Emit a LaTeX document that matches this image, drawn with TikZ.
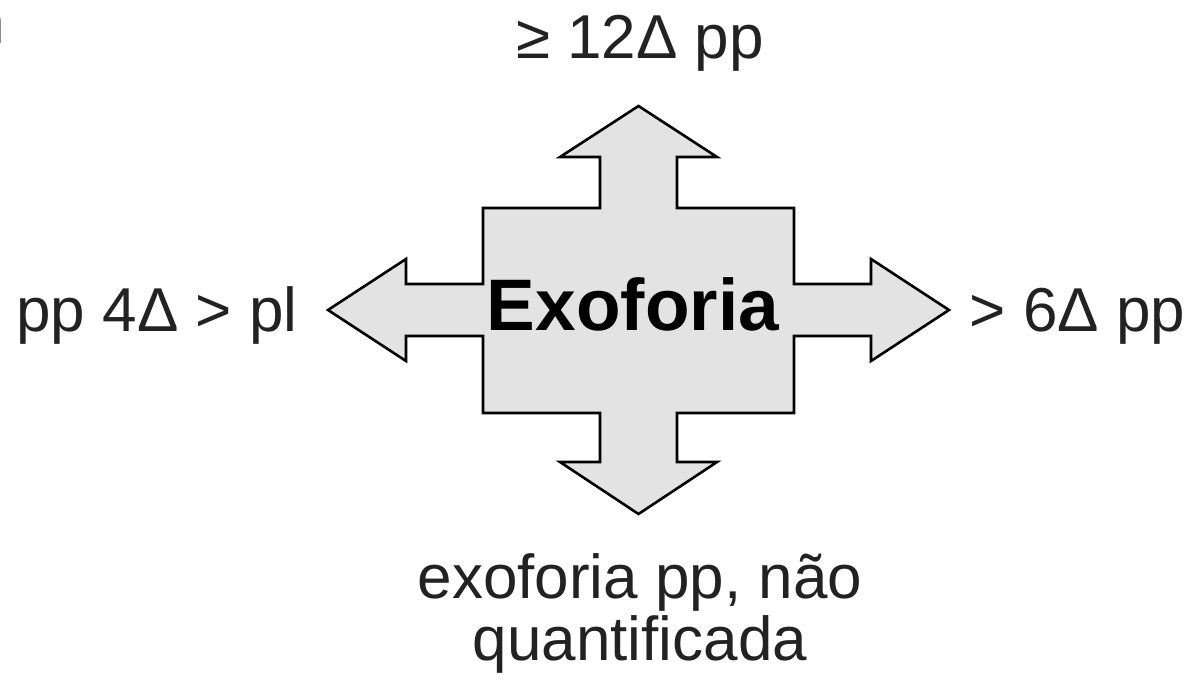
\documentclass[tikz,border=0pt]{standalone}
\usepackage{fontspec}
\setmainfont{Liberation Sans}
\definecolor{crossfill}{HTML}{E3E3E3}
\definecolor{labeltext}{HTML}{222222}
\tikzset{
  crossshape/.style={draw=black, line width=2.6pt, fill=crossfill, line join=miter},
  sidelabel/.style={inner sep=0pt, text=labeltext, font=\fontsize{62}{62}\selectfont},
  centrelabel/.style={inner sep=0pt, text=black, font=\fontsize{73}{73}\selectfont\bfseries},
}
\begin{document}
\begin{tikzpicture}[x=1pt, y=-1pt]
\useasboundingbox (0,0) rectangle (1198,688);
% cross of four arrows
\draw[crossshape] (638.5,106) -- (717,157) -- (677,157) -- (677,208) -- (794,208) -- (794,284)
  -- (871,284) -- (871,259) -- (949,310) -- (871,361) -- (871,336) -- (794,336)
  -- (794,413) -- (677,413) -- (677,462) -- (717,462) -- (638.5,514) -- (560,462)
  -- (600,462) -- (600,413) -- (483,413) -- (483,336) -- (406,336) -- (406,361)
  -- (328,310) -- (406,259) -- (406,284) -- (483,284) -- (483,208) -- (600,208)
  -- (600,157) -- (560,157) -- cycle;
\node[centrelabel, anchor=base] (centre) at (633,330) {Exoforia};
\node[sidelabel, anchor=base] (top) at (640,58) {≥ 12Δ pp};
\node[sidelabel, anchor=base] (left) at (157,331) {pp 4Δ > pl};
\node[sidelabel, anchor=base] (right) at (1077.5,331) {> 6Δ pp};
\node[sidelabel, anchor=base, align=center, font=\fontsize{62}{62}\selectfont] (bottom) at (640,660) {exoforia pp, não\\quantificada};
\node[sidelabel, anchor=base east, text=black] (corner) at (5,43) {n};
\end{tikzpicture}
\end{document}
